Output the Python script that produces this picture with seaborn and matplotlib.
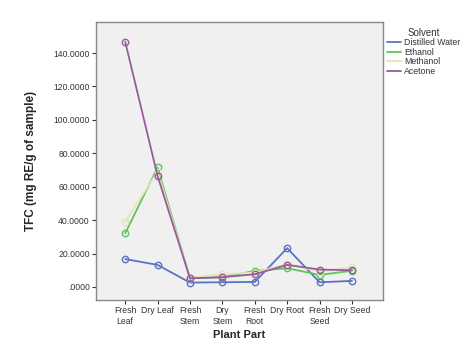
import matplotlib
matplotlib.use("Agg")
import matplotlib.pyplot as plt
import seaborn as sns
import pandas as pd
from matplotlib.ticker import FuncFormatter
from matplotlib.lines import Line2D

parts = ["Fresh\nLeaf", "Dry Leaf", "Fresh\nStem", "Dry\nStem", "Fresh\nRoot", "Dry Root", "Fresh\nSeed", "Dry Seed"]
solvents = ["Distilled Water", "Ethanol", "Methanol", "Acetone"]
distilled_water = [16.7, 13.2, 2.6, 2.8, 3.0, 23.2, 2.8, 3.6]
ethanol = [32.1, 71.5, 5.2, 5.8, 9.6, 11.2, 7.2, 9.7]
methanol = [39.0, 69.0, 5.5, 7.6, 8.6, 13.8, 9.2, 11.8]
acetone = [146.8, 66.4, 5.2, 5.8, 7.6, 13.2, 10.4, 10.0]
colors = ["#5b73c2", "#5cc65c", "#e6e4b4", "#9a5aa0"]

rows = []
for s, vals in zip(solvents, [distilled_water, ethanol, methanol, acetone]):
    for p, v in zip(parts, vals):
        rows.append({"Plant Part": p, "TFC": v, "Solvent": s})
df = pd.DataFrame(rows)

sns.set_style("white")
plt.rcParams['font.family'] = ['Liberation Sans', 'DejaVu Sans']

fig = plt.figure(figsize=(4.67, 3.48), dpi=100)
ax = fig.add_axes([0.2056, 0.138, 0.614, 0.799])
ax.set_facecolor("#f0f0f0")

sns.lineplot(data=df, x="Plant Part", y="TFC", hue="Solvent", hue_order=solvents,
             palette=colors, marker="o", markersize=4.6, linewidth=1.3, ax=ax, sort=False)
for ln in ax.lines:
    c = ln.get_color()
    ln.set_markerfacecolor("none")
    ln.set_markeredgecolor(c)
    ln.set_markeredgewidth(1.0)

ax.set_xlim(-0.9, 7.95)
ax.set_ylim(-7.8, 158.6)
ax.set_yticks([0, 20, 40, 60, 80, 100, 120, 140])
ax.yaxis.set_major_formatter(FuncFormatter(lambda v, p: ".0000" if v == 0 else f"{v:.4f}"))
ax.tick_params(axis="both", labelsize=6.2, length=3, width=0.8, direction="out", color="#333333", labelcolor="#333333", pad=1.5)
ax.tick_params(axis="x", bottom=True)
ax.tick_params(axis="y", left=True)
for sp in ax.spines.values():
    sp.set_color("#888888")
    sp.set_linewidth(1.0)

ax.set_xlabel("Plant Part", fontsize=8, fontweight="bold", labelpad=3)
ax.set_ylabel("TFC (mg RE/g of sample)", fontsize=8.5, fontweight="bold", labelpad=12)

ax.get_legend().remove()
hs = [Line2D([0], [0], color=c, lw=1.3) for c in colors]
leg = fig.legend(hs, solvents, title="Solvent", loc="upper left", bbox_to_anchor=(0.822, 0.93),
                 frameon=False, fontsize=6.3, title_fontsize=7, handlelength=1.6, handletextpad=0.3,
                 labelspacing=0.05, borderaxespad=0)
leg._legend_box.align = "center"
leg.get_title().set_color("#333333")
for t in leg.get_texts():
    t.set_color("#333333")

fig.savefig("out.png", dpi=100)
